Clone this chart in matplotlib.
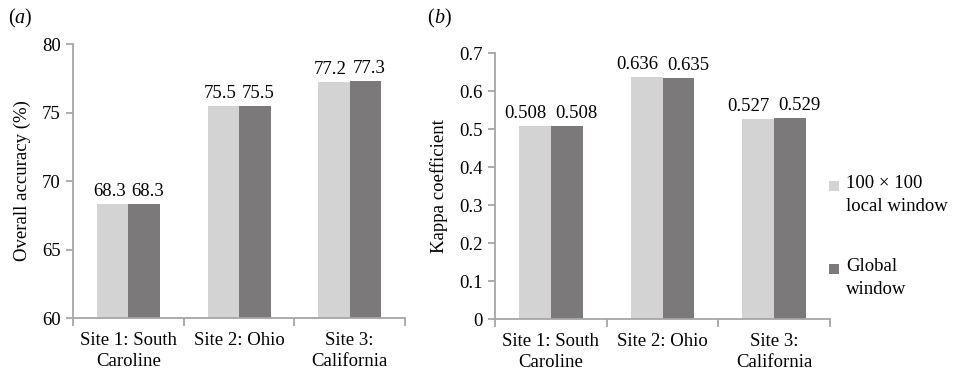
import matplotlib
matplotlib.use("Agg")
import matplotlib.pyplot as plt
from matplotlib.patches import Rectangle
import numpy as np

plt.rcParams['font.family'] = ['Liberation Serif', 'DejaVu Serif']

categories = ["Site 1: South\nCaroline", "Site 2: Ohio", "Site 3:\nCalifornia"]
series_names = ["100 × 100\nlocal window", "Global\nwindow"]
accuracy_local = [68.3, 75.5, 77.2]
accuracy_global = [68.3, 75.5, 77.3]
kappa_local = [0.508, 0.636, 0.527]
kappa_global = [0.508, 0.635, 0.529]
acc_ticks = [60, 65, 70, 75, 80]
kappa_ticks = [0, 0.1, 0.2, 0.3, 0.4, 0.5, 0.6, 0.7]

light = "#d3d3d3"
dark = "#7b797a"
spine_c = "#a6a6a6"
fs = 13.5

fig = plt.figure(figsize=(9.56, 3.74), dpi=100)
ax1 = fig.add_axes([0.0764, 0.1497, 0.3473, 0.7326])
ax2 = fig.add_axes([0.5178, 0.147, 0.3504, 0.7112])

x = np.arange(len(categories))
w = 0.285

def style(ax, ylim, yticks, fmt):
    ax.set_xlim(-0.5, len(categories) - 0.5)
    ax.set_ylim(*ylim)
    ax.set_yticks(yticks)
    ax.set_yticklabels([fmt(t) for t in yticks], fontsize=fs)
    for s in ["top", "right"]:
        ax.spines[s].set_visible(False)
    for s in ["left", "bottom"]:
        ax.spines[s].set_color(spine_c)
        ax.spines[s].set_linewidth(1.3)
    ax.tick_params(axis="y", color=spine_c, width=1.3, length=5, pad=4)
    ax.set_xticks(np.arange(len(categories) + 1) - 0.5)
    ax.set_xticklabels([])
    ax.set_xticks(x, minor=True)
    labels = ax.set_xticklabels(categories, minor=True, fontsize=fs)
    for t in labels:
        t.set_linespacing(1.35)
    ax.tick_params(axis="x", which="major", color=spine_c, width=1.3, length=6)
    ax.tick_params(axis="x", which="minor", length=0, pad=10)

def bars(ax, a, b, fmt, shift):
    r1 = ax.bar(x - w / 2, a, w, color=light, edgecolor="none", label=series_names[0])
    r2 = ax.bar(x + w / 2, b, w, color=dark, edgecolor="none", label=series_names[1])
    for rects, vals, sgn in ((r1, a, -1), (r2, b, 1)):
        for r, v in zip(rects, vals):
            ax.annotate(fmt(v), (r.get_x() + r.get_width() / 2, v),
                        xytext=(sgn * shift, 3), textcoords="offset points",
                        ha="center", va="bottom", fontsize=fs)
    return r1, r2

bars(ax1, accuracy_local, accuracy_global, lambda v: f"{v:.1f}", 2.5)
style(ax1, (60, 80), acc_ticks, lambda t: f"{t:g}")
ax1.set_ylabel("Overall accuracy (%)", fontsize=fs, labelpad=8)

h1, h2 = bars(ax2, kappa_local, kappa_global, lambda v: f"{v:.3f}", 7)
style(ax2, (0, 0.7), kappa_ticks, lambda t: f"{t:g}")
ax2.set_ylabel("Kappa coefficient", fontsize=fs, labelpad=8)

# legend (manual, first line aligned with swatch)
W, H = 956.0, 374.0
for (ypix, col, name) in ((186, light, series_names[0]), (269, dark, series_names[1])):
    fig.patches.append(Rectangle(((829) / W, 1 - (ypix + 5) / H), 10 / W, 10 / H,
                                 transform=fig.transFigure, facecolor=col,
                                 edgecolor="none", figure=fig))
    fig.text(846 / W, 1 - (ypix - 11) / H, name, fontsize=fs, va="top",
             ha="left", linespacing=1.45)

fig.text(0.008, 0.975, "(", fontsize=fs + 1, va="top")
fig.text(0.0155, 0.975, "a", fontsize=fs + 1, va="top", style="italic")
fig.text(0.025, 0.975, ")", fontsize=fs + 1, va="top")
fig.text(0.447, 0.975, "(", fontsize=fs + 1, va="top")
fig.text(0.4545, 0.975, "b", fontsize=fs + 1, va="top", style="italic")
fig.text(0.4645, 0.975, ")", fontsize=fs + 1, va="top")

fig.savefig("out.png", dpi=100)
